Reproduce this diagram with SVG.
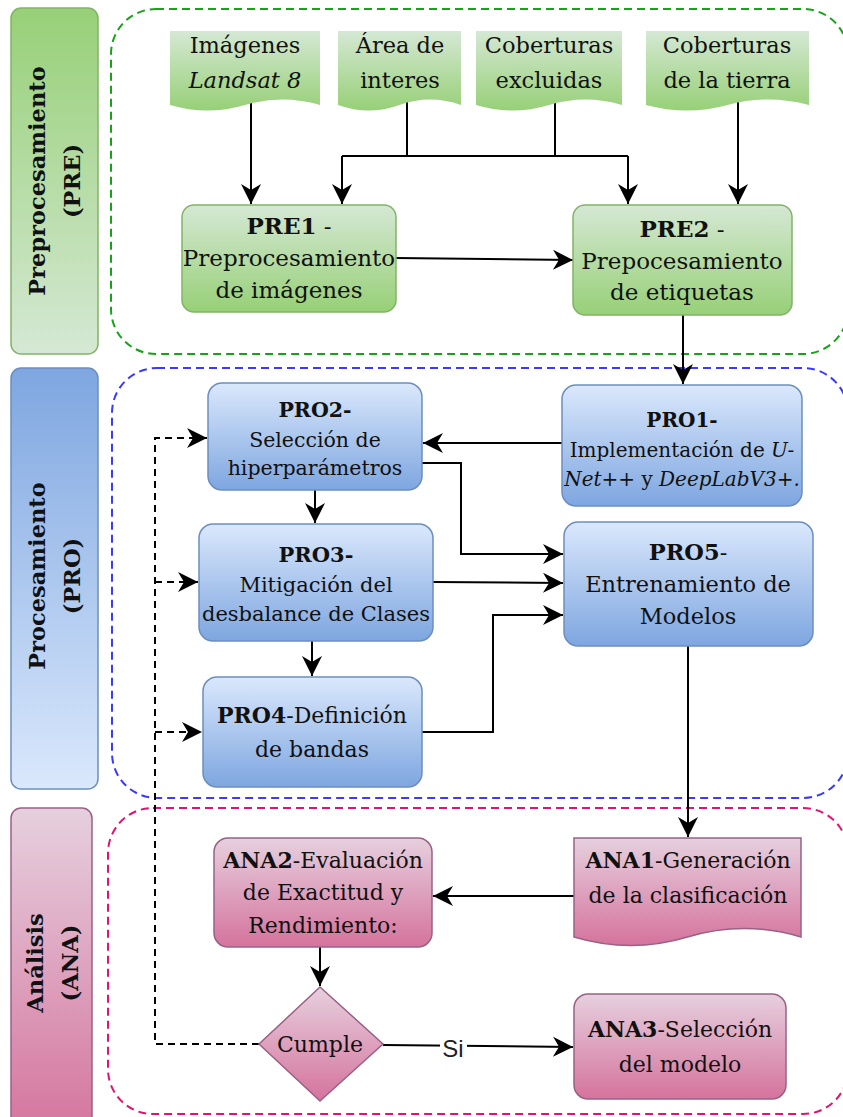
<svg xmlns="http://www.w3.org/2000/svg" width="843" height="1117" viewBox="0 0 843 1117">
  <defs>
    <linearGradient id="gGreen" x1="0" y1="0" x2="0" y2="1">
      <stop offset="0" stop-color="#d5e8d4"/>
      <stop offset="1" stop-color="#97d077"/>
    </linearGradient>
    <linearGradient id="gGreenRev" x1="0" y1="0" x2="0" y2="1">
      <stop offset="0" stop-color="#97d077"/>
      <stop offset="1" stop-color="#d5e8d4"/>
    </linearGradient>
    <linearGradient id="gBlue" x1="0" y1="0" x2="0" y2="1">
      <stop offset="0" stop-color="#dae8fc"/>
      <stop offset="1" stop-color="#7ea6e0"/>
    </linearGradient>
    <linearGradient id="gBlueRev" x1="0" y1="0" x2="0" y2="1">
      <stop offset="0" stop-color="#7ea6e0"/>
      <stop offset="1" stop-color="#dae8fc"/>
    </linearGradient>
    <linearGradient id="gPink" x1="0" y1="0" x2="0" y2="1">
      <stop offset="0" stop-color="#e6d0de"/>
      <stop offset="1" stop-color="#d5739d"/>
    </linearGradient>
    <marker id="arrow" markerUnits="userSpaceOnUse" markerWidth="24" markerHeight="24" viewBox="-22 -12 24 24" refX="0" refY="0" orient="auto">
      <path d="M0,0 L-20,-10 L-14,0 L-20,10 Z" fill="#000"/>
    </marker>
    <style>
      text { font-family: 'DejaVu Serif', 'Liberation Serif', serif; fill: #111; text-anchor: middle; }
      .side { font-weight: bold; font-size: 22.5px; }
      .green { fill: url(#gGreen); stroke: #82b366; stroke-width: 1.5; }
      .doc { fill: url(#gGreen); stroke: none; }
      .blue { fill: url(#gBlue); stroke: #6c8ebf; stroke-width: 1.5; }
      .pink { fill: url(#gPink); stroke: #996185; stroke-width: 1.5; }
      .lane { fill: none; stroke-width: 2; stroke-dasharray: 8 5; }
      .edge { fill: none; stroke: #000; stroke-width: 2; }
      .dash { stroke-dasharray: 7 5; }
      .b { font-weight: bold; }
      .i { font-style: italic; }
    </style>
  </defs>

  <!-- stage headers and their dashed lanes -->
  <g id="lane-pre">
    <rect x="11" y="8" width="87" height="346" rx="10" fill="url(#gGreenRev)" stroke="#82b366" stroke-width="1.5"/>
    <text class="side" transform="translate(45,181) rotate(-90)">Preprocesamiento</text>
    <text class="side" transform="translate(80,181) rotate(-90)">(PRE)</text>
    <rect class="lane" x="111" y="9" width="737" height="345" rx="45" stroke="#16a316"/>
  </g>
  <g id="lane-pro">
    <rect x="11" y="368" width="87" height="421" rx="10" fill="url(#gBlueRev)" stroke="#6c8ebf" stroke-width="1.5"/>
    <text class="side" transform="translate(45,576) rotate(-90)">Procesamiento</text>
    <text class="side" transform="translate(80,576) rotate(-90)">(PRO)</text>
    <rect class="lane" x="112" y="368" width="736" height="430" rx="45" stroke="#3a3aff"/>
  </g>
  <g id="lane-ana">
    <rect x="11" y="808" width="81" height="330" rx="10" fill="url(#gPink)" stroke="#996185" stroke-width="1.5"/>
    <text class="side" transform="translate(43,963) rotate(-90)">Análisis</text>
    <text class="side" transform="translate(78,963) rotate(-90)">(ANA)</text>
    <rect class="lane" x="108" y="808" width="740" height="306" rx="45" stroke="#de1470"/>
  </g>

  <!-- connectors -->
  <g id="connectors">
    <polyline class="edge" points="251,100 251,204" marker-end="url(#arrow)"/>
    <polyline class="edge" points="407,100 407,156"/>
    <polyline class="edge" points="555,100 555,156"/>
    <polyline class="edge" points="342,156 628,156"/>
    <polyline class="edge" points="342,156 342,204" marker-end="url(#arrow)"/>
    <polyline class="edge" points="628,156 628,204" marker-end="url(#arrow)"/>
    <polyline class="edge" points="738,100 738,204" marker-end="url(#arrow)"/>
    <polyline class="edge" points="396,258 573,260" marker-end="url(#arrow)"/>
    <polyline class="edge" points="683,315 683,384" marker-end="url(#arrow)"/>

    <polyline class="edge" points="562,443 423,443" marker-end="url(#arrow)"/>
    <polyline class="edge" points="315,490 315,523" marker-end="url(#arrow)"/>
    <polyline class="edge" points="312,641 312,676" marker-end="url(#arrow)"/>
    <polyline class="edge" points="422,463 461,463 461,554 563,554" marker-end="url(#arrow)"/>
    <polyline class="edge" points="433,582 563,583" marker-end="url(#arrow)"/>
    <polyline class="edge" points="422,732 493,732 493,615 563,615" marker-end="url(#arrow)"/>
    <polyline class="edge" points="688,646 688,837" marker-end="url(#arrow)"/>

    <polyline class="edge" points="574,896 433,896" marker-end="url(#arrow)"/>
    <polyline class="edge" points="320,947 320,986" marker-end="url(#arrow)"/>
    <polyline class="edge" points="383,1045 573,1047" marker-end="url(#arrow)"/>
    <rect x="440" y="1031" width="27" height="30" fill="#fff"/>
    <text x="453" y="1057" style="font-family:'Liberation Sans', Arial, sans-serif; font-size:24px; fill:#222;">Si</text>

    <polyline class="edge dash" points="259,1044 155,1044 155,438 207,438" marker-end="url(#arrow)"/>
    <polyline class="edge dash" points="155,582 198,582" marker-end="url(#arrow)"/>
    <polyline class="edge dash" points="155,732 202,732" marker-end="url(#arrow)"/>
  </g>

  <!-- inputs -->
  <g id="doc-landsat">
    <path class="doc" d="M170,31 H320 V105 Q282.5,94 245,105 Q207.5,116 170,105 Z"/>
    <text x="245" y="53" font-size="22.5">Imágenes</text>
    <text x="245" y="88" font-size="22.5" class="i">Landsat 8</text>
  </g>
  <g id="doc-area">
    <path class="doc" d="M338,31 H461 V105 Q430,94 399.5,105 Q369,116 338,105 Z"/>
    <text x="400" y="53" font-size="22.5">Área de</text>
    <text x="400" y="88" font-size="22.5">interes</text>
  </g>
  <g id="doc-excluidas">
    <path class="doc" d="M476,31 H622 V105 Q585.5,94 549,105 Q512.5,116 476,105 Z"/>
    <text x="549" y="53" font-size="22.5">Coberturas</text>
    <text x="549" y="88" font-size="22.5">excluidas</text>
  </g>
  <g id="doc-tierra">
    <path class="doc" d="M646,31 H809 V105 Q768,94 727.5,105 Q687,116 646,105 Z"/>
    <text x="727" y="53" font-size="22.5">Coberturas</text>
    <text x="727" y="88" font-size="22.5">de la tierra</text>
  </g>

  <!-- preprocessing -->
  <g id="pre1">
    <rect class="green" x="182" y="205" width="214" height="107" rx="12"/>
    <text x="289" y="234" font-size="23"><tspan class="b">PRE1</tspan> -</text>
    <text x="289" y="266" font-size="23">Preprocesamiento</text>
    <text x="289" y="298" font-size="23">de imágenes</text>
  </g>
  <g id="pre2">
    <rect class="green" x="573" y="205" width="219" height="110" rx="12"/>
    <text x="682" y="237" font-size="23"><tspan class="b">PRE2</tspan> -</text>
    <text x="682" y="269" font-size="23">Prepocesamiento</text>
    <text x="682" y="300" font-size="23">de etiquetas</text>
  </g>

  <!-- processing -->
  <g id="pro1">
    <rect class="blue" x="562" y="385" width="240" height="121" rx="14"/>
    <text x="682" y="427" font-size="20"><tspan class="b">PRO1-</tspan></text>
    <text x="682" y="457" font-size="20">Implementación de <tspan class="i">U-</tspan></text>
    <text x="682" y="486" font-size="20" class="i">Net++ <tspan font-style="normal">y</tspan> DeepLabV3+.</text>
  </g>
  <g id="pro2">
    <rect class="blue" x="208" y="383" width="214" height="107" rx="14"/>
    <text x="315" y="417" font-size="20.5"><tspan class="b">PRO2-</tspan></text>
    <text x="315" y="447" font-size="20.5">Selección de</text>
    <text x="315" y="475" font-size="20.5">hiperparámetros</text>
  </g>
  <g id="pro3">
    <rect class="blue" x="199" y="524" width="234" height="117" rx="14"/>
    <text x="316" y="562" font-size="21"><tspan class="b">PRO3-</tspan></text>
    <text x="316" y="592" font-size="21">Mitigación del</text>
    <text x="316" y="621" font-size="21">desbalance de Clases</text>
  </g>
  <g id="pro4">
    <rect class="blue" x="203" y="677" width="219" height="110" rx="14"/>
    <text x="312" y="723" font-size="22"><tspan class="b">PRO4</tspan>-Definición</text>
    <text x="312" y="757" font-size="22">de bandas</text>
  </g>
  <g id="pro5">
    <rect class="blue" x="564" y="522" width="249" height="124" rx="14"/>
    <text x="688" y="560" font-size="22.5"><tspan class="b">PRO5</tspan>-</text>
    <text x="688" y="592" font-size="22.5">Entrenamiento de</text>
    <text x="688" y="624" font-size="22.5">Modelos</text>
  </g>

  <!-- analysis -->
  <g id="ana1">
    <path class="pink" d="M574,838 H801 V937 Q744,920 687.5,937 Q631,954 574,937 Z"/>
    <text x="688" y="868" font-size="22"><tspan class="b">ANA1</tspan>-Generación</text>
    <text x="688" y="903" font-size="22">de la clasificación</text>
  </g>
  <g id="ana2">
    <rect class="pink" x="214" y="838" width="218" height="109" rx="14"/>
    <text x="323" y="868" font-size="22"><tspan class="b">ANA2</tspan>-Evaluación</text>
    <text x="323" y="900" font-size="22">de Exactitud y</text>
    <text x="323" y="933" font-size="22">Rendimiento:</text>
  </g>
  <g id="decision">
    <polygon class="pink" points="320,987 383,1044 320,1101 259,1044"/>
    <text x="320" y="1052" font-size="22">Cumple</text>
  </g>
  <g id="ana3">
    <rect class="pink" x="574" y="994" width="212" height="105" rx="14"/>
    <text x="680" y="1037" font-size="22"><tspan class="b">ANA3</tspan>-Selección</text>
    <text x="680" y="1072" font-size="22">del modelo</text>
  </g>
</svg>
